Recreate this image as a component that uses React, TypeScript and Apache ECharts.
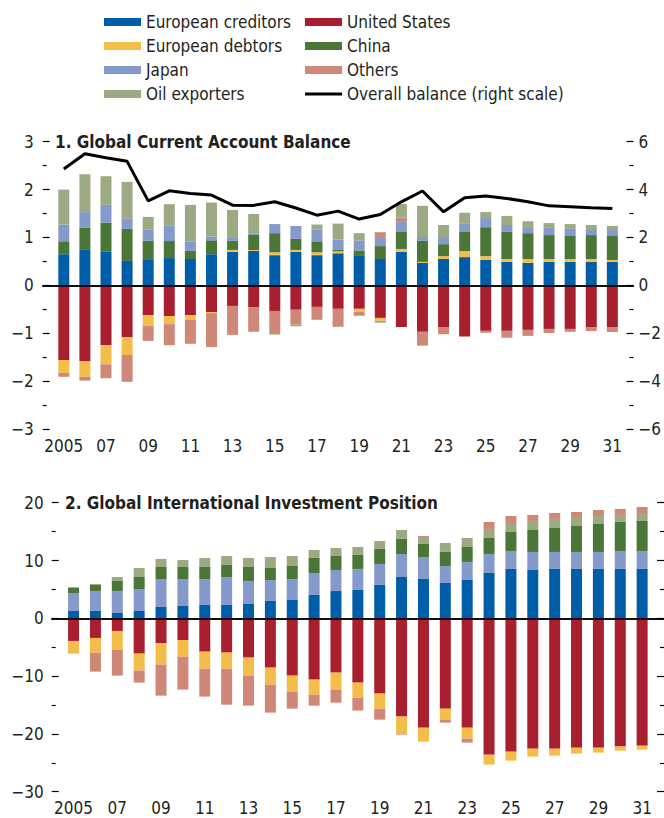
import React, { useEffect, useRef } from "react";
import * as echarts from "echarts";

const years = [2005,2006,2007,2008,2009,2010,2011,2012,2013,2014,2015,2016,2017,2018,2019,2020,2021,2022,2023,2024,2025,2026,2027,2028,2029,2030,2031];
const labelYears = [2005,2007,2009,2011,2013,2015,2017,2019,2021,2023,2025,2027,2029,2031];

// Panel 1: Global current account balance (% of world GDP)
const caEurCred = [0.65,0.74,0.70,0.51,0.53,0.57,0.55,0.65,0.70,0.72,0.63,0.70,0.63,0.67,0.63,0.55,0.70,0.47,0.55,0.59,0.53,0.49,0.47,0.49,0.49,0.49,0.49];
const caEurDeb = [-0.27,-0.33,-0.40,-0.375,-0.23,-0.17,-0.10,-0.02,0.04,0.02,0.06,0.04,0.06,0.04,-0.06,-0.06,0.06,0.02,0.06,0.125,0.08,0.06,0.08,0.06,0.06,0.06,0.04];
const caChina = [0.27,0.46,0.61,0.67,0.40,0.355,0.17,0.29,0.19,0.31,0.40,0.23,0.23,0.04,0.10,0.27,0.355,0.44,0.25,0.40,0.605,0.565,0.54,0.50,0.48,0.50,0.50];
const caJapan = [0.35,0.33,0.37,0.21,0.23,0.33,0.19,0.08,0.06,0.04,0.19,0.27,0.25,0.21,0.21,0.17,0.21,0.08,0.15,0.17,0.19,0.145,0.125,0.15,0.15,0.125,0.125];
const caOil = [0.73,0.79,0.60,0.77,0.27,0.44,0.77,0.71,0.585,0.40,-0.035,-0.035,0.10,0.33,0.15,-0.04,0.285,0.65,0.25,0.23,0.125,0.19,0.125,0.10,0.10,0.085,0.085];
const caUS = [-1.56,-1.58,-1.25,-1.08,-0.62,-0.64,-0.62,-0.56,-0.43,-0.45,-0.535,-0.51,-0.45,-0.49,-0.49,-0.68,-0.87,-0.97,-0.87,-1.06,-0.95,-0.95,-0.93,-0.91,-0.91,-0.87,-0.87];
const caOthers = [-0.08,-0.08,-0.29,-0.56,-0.31,-0.44,-0.50,-0.71,-0.605,-0.52,-0.46,-0.31,-0.27,-0.375,-0.085,0.12,0.09,-0.29,-0.15,-0.02,-0.04,-0.145,-0.125,-0.085,-0.06,-0.085,-0.105];
const caOverall = [4.86,5.50,5.33,5.18,3.53,3.95,3.84,3.77,3.35,3.34,3.49,3.23,2.93,3.10,2.77,2.96,3.49,3.94,3.07,3.66,3.73,3.63,3.49,3.32,3.28,3.24,3.21];

// Panel 2: Global international investment position
const iipEurCred = [1.27,1.27,0.92,1.27,1.96,2.13,2.31,2.31,2.48,3.00,3.17,4.04,4.73,4.90,5.77,7.15,6.80,6.11,6.63,7.84,8.54,8.36,8.54,8.54,8.54,8.54,8.54];
const iipJapan = [3.11,3.46,3.81,3.80,4.84,4.67,4.49,4.84,3.98,3.63,3.63,3.80,3.63,3.64,3.63,3.98,3.81,2.94,3.12,3.29,3.11,3.12,2.94,2.94,2.94,3.11,3.11];
const iipChina = [0.92,1.04,1.73,2.08,2.08,2.08,2.08,2.08,2.42,2.08,2.25,2.60,2.42,2.42,2.60,2.60,2.25,2.43,2.59,2.77,3.29,3.80,4.15,4.49,4.84,5.02,5.19];
const iipOil = [0,0.17,0.69,1.56,1.39,1.21,1.56,1.55,1.56,1.90,1.73,1.38,1.39,1.38,1.38,1.55,1.21,1.55,1.56,1.56,1.55,1.56,1.56,1.39,1.38,1.21,1.38];
const iipOthers = [0.12,-3.29,-4.50,-2.08,-5.36,-5.71,-4.84,-6.23,-5.19,-4.84,-2.94,-1.90,-2.25,-2.24,-1.90,-0.17,0.17,-0.52,-0.69,1.21,1.21,1.04,1.03,1.04,1.04,1.04,1.04];
const iipUS = [-3.92,-3.40,-2.19,-6.11,-4.27,-3.75,-5.77,-5.94,-6.80,-8.54,-9.92,-10.61,-9.40,-11.13,-13.03,-17.01,-18.92,-15.63,-18.92,-23.59,-23.07,-22.55,-22.55,-22.38,-22.38,-22.20,-22.03];
const iipEurDeb = [-2.19,-2.54,-3.23,-2.94,-3.75,-2.88,-2.94,-2.77,-3.12,-2.94,-2.77,-2.60,-2.94,-2.60,-2.60,-2.94,-2.42,-1.90,-1.90,-1.73,-1.56,-1.38,-1.21,-1.03,-0.86,-0.70,-0.69];

const N_EC = "European creditors";
const N_ED = "European debtors";
const N_JP = "Japan";
const N_OIL = "Oil exporters";
const N_US = "United States";
const N_CN = "China";
const N_OT = "Others";
const N_OV = "Overall balance (right scale)";

const COLORS: Record<string, string> = {
  [N_EC]: "#005ea8",
  [N_ED]: "#f4bd4a",
  [N_JP]: "#8599cb",
  [N_OIL]: "#9caa83",
  [N_US]: "#a81f30",
  [N_CN]: "#4a7637",
  [N_OT]: "#cf8878",
};

const FONT = "'Liberation Sans Narrow', 'DejaVu Sans Condensed', 'Arial Narrow', sans-serif";
const TXT = "#231f20";
const FS = 17;

const fmtMinus = (v: number) => String(v).replace("-", "\u2212");
const fmtYear = (v: number) => (v === 2005 ? "2005" : String(v % 100).padStart(2, "0"));

export default function App() {
  const ref = useRef<HTMLDivElement>(null);
  useEffect(() => {
    if (!ref.current) return;
    const chart = echarts.init(ref.current, undefined, { renderer: "svg" });

    // data as [value, year] so that the value dimension is the stacked one
    const bar = (name: string, vals: number[], gridIdx: number, stack: string, extra: any = {}) => ({
      type: "bar",
      name,
      xAxisIndex: gridIdx,
      yAxisIndex: gridIdx * 2,
      stack,
      stackStrategy: "samesign",
      barWidth: 11,
      itemStyle: { color: COLORS[name] },
      encode: { x: 1, y: 0 },
      data: years.map((y, i) => [vals[i], y]),
      ...extra,
    });

    const zeroLine = {
      silent: true,
      symbol: "none",
      label: { show: false },
      lineStyle: { color: "#000", width: 1.5, type: "solid" },
      data: [{ yAxis: 0 }],
    };

    const xAxisBase = (gridIndex: number) => ({
      type: "value",
      gridIndex,
      min: 2004,
      max: 2032,
      interval: 1,
      splitLine: { show: false },
      axisLine: { show: true, lineStyle: { color: "#000", width: 1.5 } },
      axisTick: {
        show: true,
        inside: true,
        length: 8,
        customValues: years,
        lineStyle: { color: "#000", width: 1.3 },
      },
      axisLabel: {
        show: true,
        customValues: labelYears,
        formatter: fmtYear,
        fontSize: FS,
        fontFamily: FONT,
        color: TXT,
        margin: 8,
      },
    });

    const yAxisBase = (gridIndex: number, min: number, max: number, interval: number, position: string, margin: number, showLabel = true) => ({
      type: "value",
      gridIndex,
      min,
      max,
      interval,
      position,
      splitLine: { show: false },
      axisLine: { show: false },
      axisTick: { show: true, inside: true, length: 7, lineStyle: { color: "#000", width: 1.2 } },
      minorTick: { show: true, splitNumber: 2, length: 4, lineStyle: { color: "#000", width: 1.2 } },
      axisLabel: {
        show: showLabel,
        formatter: fmtMinus,
        fontSize: FS,
        fontFamily: FONT,
        color: TXT,
        margin,
      },
    });

    const legendBase = {
      orient: "vertical",
      top: 10,
      itemWidth: 37,
      itemHeight: 8,
      itemGap: 0,
      padding: 0,
      icon: "rect",
      selectedMode: false,
      textStyle: { fontSize: FS, fontFamily: FONT, color: TXT, lineHeight: 24 },
    };

    const option: any = {
      animation: false,
      backgroundColor: "#fff",
      legend: [
        { ...legendBase, left: 104, data: [N_EC, N_ED, N_JP, N_OIL] },
        {
          ...legendBase,
          left: 305,
          data: [N_US, N_CN, N_OT, { name: N_OV, icon: "path://M0,0 L37,0 L37,3 L0,3 Z", itemStyle: { color: "#000" } }],
        },
      ],
      grid: [
        { left: 42.7, top: 141.7, width: 594, height: 287.3, containLabel: false },
        { left: 51.7, top: 502.7, width: 613.9, height: 289, containLabel: false },
      ],
      xAxis: [xAxisBase(0), xAxisBase(1)],
      yAxis: [
        yAxisBase(0, -3, 3, 1, "left", 9),
        yAxisBase(0, -6, 6, 2, "right", 5),
        yAxisBase(1, -30, 20, 10, "left", 8),
        yAxisBase(1, -30, 20, 10, "right", 5, false),
      ],
      graphic: [
        {
          type: "text",
          x: 55,
          y: 141.7,
          style: {
            text: "1. Global Current Account Balance",
            font: `bold ${FS}px ${FONT}`,
            fill: TXT,
            verticalAlign: "middle",
          },
        },
        {
          type: "text",
          x: 65,
          y: 502.7,
          style: {
            text: "2. Global International Investment Position",
            font: `bold ${FS}px ${FONT}`,
            fill: TXT,
            verticalAlign: "middle",
          },
        },
      ],
      series: [
        bar(N_EC, caEurCred, 0, "ca", { markLine: zeroLine }),
        bar(N_US, caUS, 0, "ca"),
        bar(N_ED, caEurDeb, 0, "ca"),
        bar(N_CN, caChina, 0, "ca"),
        bar(N_JP, caJapan, 0, "ca"),
        bar(N_OT, caOthers, 0, "ca"),
        bar(N_OIL, caOil, 0, "ca"),
        {
          type: "line",
          name: N_OV,
          xAxisIndex: 0,
          yAxisIndex: 1,
          symbol: "none",
          z: 5,
          lineStyle: { color: "#000", width: 3 },
          itemStyle: { color: "#000" },
          data: years.map((y, i) => [y, caOverall[i]]),
        },
        bar(N_EC, iipEurCred, 1, "iip", { markLine: zeroLine }),
        bar(N_US, iipUS, 1, "iip"),
        bar(N_JP, iipJapan, 1, "iip"),
        bar(N_ED, iipEurDeb, 1, "iip"),
        bar(N_CN, iipChina, 1, "iip"),
        bar(N_OIL, iipOil, 1, "iip"),
        bar(N_OT, iipOthers, 1, "iip"),
      ],
    };

    chart.setOption(option);
    return () => chart.dispose();
  }, []);

  return (
    <div
      ref={ref}
      style={{ position: "absolute", left: 0, top: 0, width: 664, height: 818, background: "#fff" }}
    />
  );
}
